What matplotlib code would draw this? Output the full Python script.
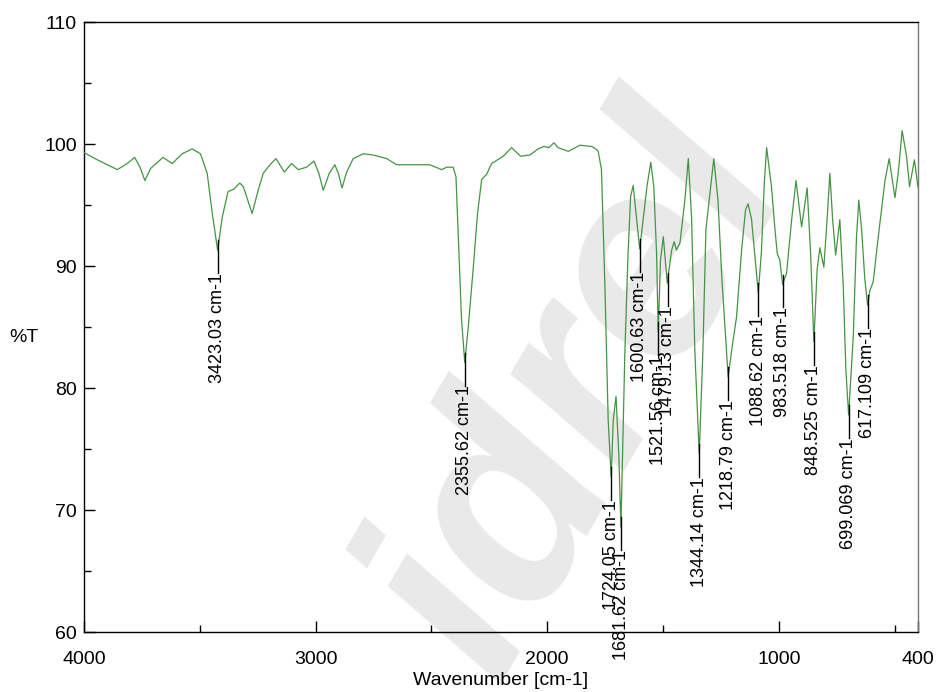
import matplotlib
matplotlib.use("Agg")
import matplotlib.pyplot as plt
from matplotlib.ticker import MultipleLocator

plt.rcParams["font.family"] = ["Liberation Sans", "DejaVu Sans"]

# FTIR spectrum, wavenumber [cm-1] vs %T
wavenumber = [
    4000, 3942, 3856, 3813, 3781, 3758, 3737, 3712, 3659, 3619, 3576, 3533,
    3497, 3468, 3446, 3423, 3403, 3378, 3353, 3327, 3312, 3274, 3248, 3226,
    3197, 3171, 3135, 3104, 3075, 3039, 3007, 2986, 2967, 2941, 2917, 2902,
    2886, 2866, 2838, 2794, 2751, 2693, 2650, 2579, 2507, 2456, 2434, 2406,
    2394, 2384, 2370, 2356, 2341, 2320, 2301, 2283, 2262, 2240, 2190, 2154,
    2115, 2075, 2039, 2014, 1993, 1971, 1953, 1909, 1859, 1809, 1790, 1780,
    1766, 1751, 1737, 1724, 1715, 1703, 1691, 1682, 1665, 1651, 1640, 1629,
    1614, 1601, 1586, 1569, 1553, 1540, 1528, 1521, 1511, 1499, 1482, 1463,
    1452, 1442, 1427, 1406, 1391, 1377, 1363, 1344, 1328, 1315, 1281, 1263,
    1246, 1219, 1204, 1183, 1161, 1144, 1133, 1118, 1099, 1089, 1075, 1063,
    1053, 1032, 1017, 1007, 996, 984, 967, 945, 926, 902, 878, 863,
    849, 835, 823, 806, 792, 780, 768, 755, 737, 722, 711, 699,
    679, 665, 655, 643, 629, 617, 607, 593, 571, 542, 524, 499,
    485, 468, 449, 436, 415, 400,
]
transmittance = [
    99.3, 98.7, 97.9, 98.4, 98.9, 98.1, 97.0, 98.0, 98.9, 98.4, 99.2, 99.6,
    99.2, 97.6, 94.3, 91.3, 94.0, 96.1, 96.3, 96.8, 96.5, 94.3, 96.2, 97.6,
    98.3, 98.8, 97.7, 98.4, 97.9, 98.1, 98.6, 97.6, 96.2, 97.6, 98.3, 97.6,
    96.4, 97.7, 98.8, 99.2, 99.1, 98.8, 98.3, 98.3, 98.3, 97.9, 98.1, 98.1,
    97.3, 92.4, 85.6, 82.1, 85.0, 89.7, 94.3, 97.1, 97.5, 98.4, 99.0, 99.7,
    99.0, 99.1, 99.6, 99.8, 99.7, 100.1, 99.7, 99.4, 99.9, 99.8, 99.6, 99.4,
    97.9, 88.3, 77.4, 72.7, 77.4, 79.3, 74.5, 68.6, 82.9, 91.1, 95.7, 96.6,
    93.8, 91.4, 93.8, 96.6, 98.5, 96.5, 91.0, 84.6, 90.5, 92.4, 88.6, 91.3,
    92.0, 91.3, 91.9, 95.4, 98.8, 94.0, 83.1, 74.6, 83.1, 93.0, 98.8, 95.4,
    88.9, 80.9, 83.1, 85.8, 91.3, 94.6, 95.1, 93.8, 89.9, 87.8, 91.3, 96.8,
    99.7, 96.5, 93.0, 91.0, 90.5, 88.5, 89.4, 93.8, 97.0, 93.2, 96.4, 91.0,
    83.8, 89.7, 91.5, 89.9, 93.8, 97.6, 93.8, 90.9, 93.8, 88.3, 81.5, 77.8,
    84.2, 92.4, 95.4, 93.0, 88.9, 86.8, 88.0, 88.7, 92.4, 97.0, 98.8, 95.6,
    97.6, 101.1, 99.0, 96.5, 98.7, 96.5,
]

# picked peaks
peak_wn = [3423.03, 2355.62, 1724.05, 1681.62, 1600.63, 1521.56, 1479.13,
           1344.14, 1218.79, 1088.62, 983.518, 848.525, 699.069, 617.109]
peak_t = [91.3, 82.1, 72.7, 68.6, 91.4, 84.6, 88.6,
          74.6, 80.9, 87.8, 88.5, 83.8, 77.8, 86.8]
peak_labels = ["3423.03 cm-1", "2355.62 cm-1", "1724.05 cm-1", "1681.62 cm-1",
               "1600.63 cm-1", "1521.56 cm-1", "1479.13 cm-1", "1344.14 cm-1",
               "1218.79 cm-1", "1088.62 cm-1", "983.518 cm-1", "848.525 cm-1",
               "699.069 cm-1", "617.109 cm-1"]

fig = plt.figure(figsize=(9.37, 6.92), dpi=100)
ax = fig.add_axes([0.0896, 0.0867, 0.890, 0.8815])
ax.set_facecolor("none")

# faint watermark, kept behind the axes
fig.text(0.62, 0.43, "idrel", fontsize=200, fontweight="bold", style="italic",
         color="#e9e9e9", rotation=60, ha="center", va="center", zorder=-5)

ax.plot(wavenumber, transmittance, color="#449444", lw=0.9, zorder=3)

for wn, t, lab in zip(peak_wn, peak_t, peak_labels):
    ax.plot([wn, wn], [t + 0.8, t - 1.9], color="black", lw=1.0, zorder=4)
    ax.text(wn, t - 1.9, lab, rotation=90, ha="center", va="top",
            fontsize=13, zorder=5)

ax.set_xlim(4000, 400)
ax.set_ylim(60, 110)
ax.xaxis.set_minor_locator(MultipleLocator(500))
ax.yaxis.set_major_locator(MultipleLocator(10))
ax.yaxis.set_minor_locator(MultipleLocator(5))
ax.set_xticks([4000, 3000, 2000, 1000, 400])

ax.tick_params(axis="both", which="both", direction="in", top=False,
               right=False, labelsize=14, width=1.0)
ax.tick_params(axis="both", which="major", length=8)
ax.tick_params(axis="both", which="minor", length=5)
ax.tick_params(axis="y", which="major", pad=5)
ax.tick_params(axis="x", which="major", pad=14)
for side in ax.spines.values():
    side.set_linewidth(1.0)
ax.spines["right"].set_color("#777777")

ax.set_xlabel("Wavenumber [cm-1]", fontsize=14, va="center")
ax.xaxis.set_label_coords(0.5, -0.079)
ax.set_ylabel("%T", fontsize=14, rotation=0, ha="center", va="center")
ax.yaxis.set_label_coords(-0.072, 0.482)

fig.savefig("out.png", dpi=100)
